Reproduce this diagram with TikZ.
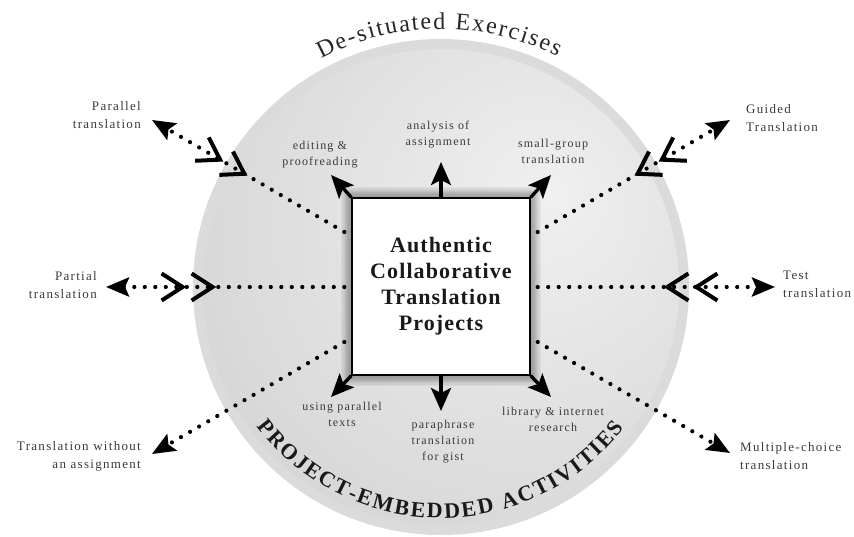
\documentclass[tikz,border=0pt]{standalone}
\usepackage{fontspec}
\setmainfont{Liberation Serif}
\newfontfamily\lblfont[LetterSpace=10]{Liberation Serif}
\newfontfamily\corefont[LetterSpace=5]{Liberation Serif}
\newfontfamily\arcfont{Liberation Serif}
\usetikzlibrary{arrows.meta,decorations.text,decorations.markings,calc}

\definecolor{ringgray}{HTML}{DBDBDB}
\definecolor{discA}{HTML}{F0F0F0}
\definecolor{discB}{HTML}{DCDCDC}
\definecolor{discC}{HTML}{C2C2C2}
\definecolor{inkgray}{HTML}{3A3A3A}
\definecolor{titleink}{HTML}{262626}

% soft light spot in the upper right of the disc, darker towards the rim
\pgfdeclareradialshading{discshade}{\pgfpoint{12bp}{10bp}}{color(0bp)=(discA); color(28bp)=(discB); color(58bp)=(discC); color(80bp)=(discC)}

\tikzset{
  outlabel/.style={font=\lblfont\fontsize{13pt}{18pt}\selectfont, text=inkgray, inner sep=0pt},
  inlabel/.style={font=\lblfont\fontsize{12pt}{16pt}\selectfont, text=inkgray, align=center, inner sep=0pt},
  dotline/.style={draw=black, line width=4.2pt, line cap=round, dash pattern=on 0pt off 10.5pt,
    -{Stealth[length=23pt,width=19pt,inset=4pt]}},
  solidarrow/.style={draw=black, line width=3.3pt, -{Stealth[length=23pt,width=20pt,inset=5pt]}},
  chevrons/.style 2 args={decorate, decoration={markings,
     mark=at position #1 with {\arrowreversed{Straight Barb[length=21pt,width=27pt,line width=4pt]}},
     mark=at position #2 with {\arrowreversed{Straight Barb[length=21pt,width=27pt,line width=4pt]}}}},
}

\begin{document}
\begin{tikzpicture}[x=1pt, y=-1pt]
\useasboundingbox (0,0) rectangle (854,537);
\coordinate (C) at (441,287);

% outer ring and shaded disc
\fill[ringgray] (C) circle[radius=248];
\shade[shading=discshade] (C) circle[radius=238];

% curved titles
\path[decorate, decoration={text along path, text align={fit to path}, text color=titleink,
   text={|\arcfont\fontsize{24pt}{24pt}\selectfont|De-situated Exercises}}]
   ($(C)+(242.3:258)$) arc[start angle=242.3, end angle=296.8, radius=258];
\path[decorate, decoration={text along path, text align={fit to path}, text color=black!90,
   text={|\arcfont\bfseries\fontsize{22pt}{22pt}\selectfont|PROJECT-EMBEDDED ACTIVITIES}}]
   ($(C)+(143:231)$) arc[start angle=143, end angle=37.5, radius=231];

% soft shadow around the central square
\foreach \i in {1,...,9} {
  \fill[black, opacity=0.045] (352-\i*1.2, 198-\i*1.2) rectangle (530+\i*1.2, 375+\i*1.2);
}

\node[draw=black, line width=1.4pt, fill=white, minimum width=178pt, minimum height=177pt,
  inner sep=0pt, align=center, font=\corefont\bfseries\fontsize{22pt}{26pt}\selectfont,
  text=black!90] (core) at (441,286.5) {Authentic\\Collaborative\\Translation\\Projects};

% short solid arrows leaving the square
\coordinate (aTop) at (441,162);
\coordinate (aTL) at (331,175);
\coordinate (aTR) at (551,175);
\coordinate (aBot) at (441,411);
\coordinate (aBL) at (331,397);
\coordinate (aBR) at (551,397);
\draw[solidarrow] (core.north) -- (aTop);
\draw[solidarrow] (core.north west) -- (aTL);
\draw[solidarrow] (core.north east) -- (aTR);
\draw[solidarrow] (core.south) -- (aBot);
\draw[solidarrow] (core.south west) -- (aBL);
\draw[solidarrow] (core.south east) -- (aBR);

% inner activity labels
\node[inlabel] (iEd) at (320,155) {editing \&\\proofreading};
\node[inlabel] (iAn) at (438,135) {analysis of\\assignment};
\node[inlabel] (iSm) at (553,151) {small-group\\translation};
\node[inlabel] (iUs) at (342,414) {using parallel\\texts};
\node[inlabel] (iPa) at (443,442) {paraphrase\\translation\\for gist};
\node[inlabel] (iLi) at (553,419) {library \& internet\\research};

% dotted links to the exercise types
\coordinate (sL1) at ($(core.west)+(-7,-54.5)$);
\coordinate (sL2) at ($(core.west)+(-7,0.5)$);
\coordinate (sL3) at ($(core.west)+(-7,55.5)$);
\coordinate (sR1) at ($(core.east)+(7,-54.5)$);
\coordinate (sR2) at ($(core.east)+(7,0.5)$);
\coordinate (sR3) at ($(core.east)+(7,55.5)$);
\coordinate (tPar) at (152,120);
\coordinate (tPart) at (106,287);
\coordinate (tWo) at (152,454);
\coordinate (tGui) at (730,120);
\coordinate (tTest) at (775,287);
\coordinate (tMul) at (730,453);

\draw[dotline] (sL1) -- (tPar);
\draw[dotline] (sL2) -- (tPart);
\draw[dotline] (sL3) -- (tWo);
\draw[dotline] (sR1) -- (tGui);
\draw[dotline] (sR2) -- (tTest);
\draw[dotline] (sR3) -- (tMul);
\path[chevrons={112pt}{140pt}] (sL1) -- (tPar);
\path[chevrons={128pt}{158pt}] (sL2) -- (tPart);
\path[chevrons={112pt}{140pt}] (sR1) -- (tGui);
\path[chevrons={126pt}{155pt}] (sR2) -- (tTest);

% exercise labels
\node[outlabel, anchor=east, align=right] (lPar) at (141,115) {Parallel\\translation};
\node[outlabel, anchor=east, align=right] (lPart) at (97,285) {Partial\\translation};
\node[outlabel, anchor=east, align=right] (lWo) at (141,456) {Translation without\\an assignment};
\node[outlabel, anchor=west, align=left] (lGui) at (746,118) {Guided\\Translation};
\node[outlabel, anchor=west, align=left] (lTest) at (783,284) {Test\\translation};
\node[outlabel, anchor=west, align=left] (lMul) at (740,456) {Multiple-choice\\translation};
\end{tikzpicture}
\end{document}
